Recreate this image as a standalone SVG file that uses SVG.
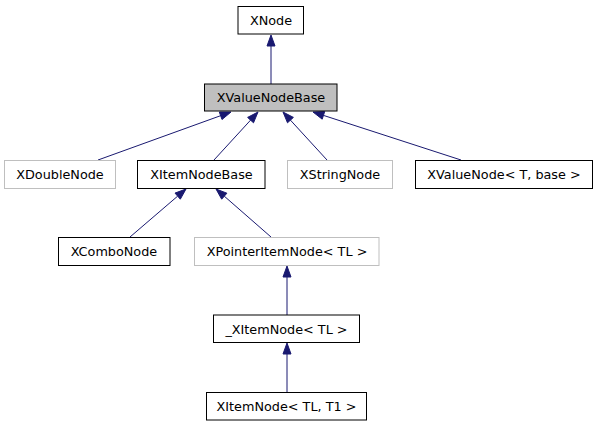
<svg xmlns="http://www.w3.org/2000/svg" width="597" height="427" viewBox="0 0 597 427">
<style>
.n rect{fill:#fff;stroke:#000;stroke-width:1}
.n.g rect{stroke:#bfbfbf}
.n.h rect{fill:#bfbfbf}
.n text{font-family:"DejaVu Sans",sans-serif;font-size:12.8px;fill:#000;text-anchor:middle}
#edges line{stroke:#191970;stroke-width:1}
#edges polygon{fill:#191970;stroke:#191970;stroke-width:1}
</style>
<rect width="597" height="427" fill="#fff"/>
<g id="edges">
<line x1="271" y1="84" x2="271" y2="46"/><polygon points="271,35 267,46 275,46"/>
<line x1="98" y1="160" x2="220.6" y2="115.7"/><polygon points="231,112 222,119.5 219.3,112"/>
<line x1="214" y1="160" x2="250.6" y2="120.1"/><polygon points="258,112 253.5,122.8 247.6,117.4"/>
<line x1="327" y1="160" x2="290.4" y2="120.1"/><polygon points="283,112 293.4,117.4 287.5,122.8"/>
<line x1="461" y1="160" x2="323.5" y2="115.4"/><polygon points="313,112 324.7,111.6 322.2,119.2"/>
<line x1="130" y1="237" x2="177.6" y2="196.2"/><polygon points="186,189 180.3,199.2 175,193.1"/>
<line x1="271" y1="237" x2="224.3" y2="196.2"/><polygon points="216,189 226.9,193.2 221.7,199.2"/>
<line x1="287" y1="315" x2="287" y2="277"/><polygon points="287,266 283,277 291,277"/>
<line x1="287" y1="392" x2="287" y2="354"/><polygon points="287,343 283,354 291,354"/>
</g>
<g id="XNode" class="n"><rect x="238" y="6.5" width="65.5" height="27.5"/><text x="271" y="24.5">XNode</text></g>
<g id="XValueNodeBase" class="n h"><rect x="204.5" y="84" width="132.5" height="27"/><text x="271" y="102">XValueNodeBase</text></g>
<g id="XDoubleNode" class="n g"><rect x="4.5" y="160.5" width="111" height="28"/><text x="60" y="179">XDoubleNode</text></g>
<g id="XItemNodeBase" class="n"><rect x="137.5" y="160.5" width="127.5" height="28"/><text x="201.5" y="179">XItemNodeBase</text></g>
<g id="XStringNode" class="n g"><rect x="287.5" y="160.5" width="105" height="28"/><text x="340" y="179">XStringNode</text></g>
<g id="XValueNode" class="n"><rect x="415.5" y="160.5" width="177" height="28"/><text x="504" y="179">XValueNode&lt; T, base &gt;</text></g>
<g id="XComboNode" class="n"><rect x="58.5" y="237.5" width="111.5" height="28"/><text x="114" y="256">XComboNode</text></g>
<g id="XPointerItemNode" class="n g"><rect x="194.5" y="237.5" width="184.5" height="28"/><text x="287" y="256">XPointerItemNode&lt; TL &gt;</text></g>
<g id="_XItemNode" class="n"><rect x="213.5" y="315" width="146" height="27.5"/><text x="286.5" y="333.5">_XItemNode&lt; TL &gt;</text></g>
<g id="XItemNode" class="n"><rect x="206.5" y="392.5" width="160" height="27.5"/><text x="286.5" y="411">XItemNode&lt; TL, T1 &gt;</text></g>
</svg>
